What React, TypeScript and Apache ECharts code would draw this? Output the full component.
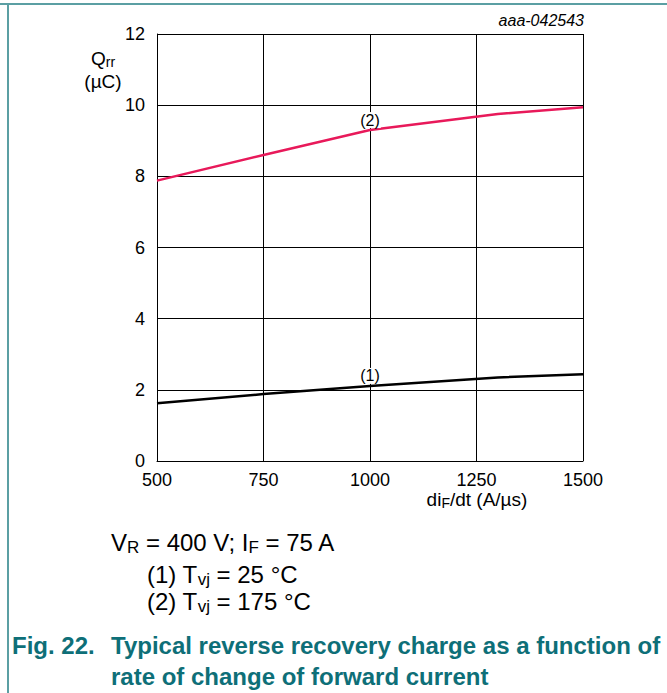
import React, { useEffect, useRef } from "react";
import * as echarts from "echarts";

const xTicks = [500, 750, 1000, 1250, 1500];
const dIdt = [500, 750, 1000, 1300, 1500];
const qrr25 = [1.62, 1.88, 2.11, 2.35, 2.44];
const qrr175 = [7.88, 8.6, 9.3, 9.75, 9.94];
const curveLabels = ["(1)", "(2)"];
const labelAt = 1000;

const FONT = "'Liberation Sans', Arial, sans-serif";
const TEAL = "#0e6f78";

function mkData(xs: number[], ys: number[]) {
  return xs.map((x, i) => [x, ys[i]]);
}

function mkLabel(label: string) {
  return {
    show: true,
    position: "top",
    distance: 2,
    formatter: (p: any) => (p.value[0] === labelAt ? label : ""),
    fontSize: 16,
    fontFamily: FONT,
    color: "#000",
    backgroundColor: "#fff",
    padding: [0, 1, 0, 1],
  };
}

export default function App() {
  const ref = useRef<HTMLDivElement>(null);
  useEffect(() => {
    const chart = echarts.init(ref.current!, null, { renderer: "svg" });
    const rich = {
      a: { fontSize: 24, fontFamily: FONT, color: "#000" },
      s: { fontSize: 17, fontFamily: FONT, color: "#000", padding: [11, 0, 0, 0] },
    };
    const richSm = {
      a: { fontSize: 19, fontFamily: FONT, color: "#000" },
      s: { fontSize: 14, fontFamily: FONT, color: "#000", padding: [8, 0, 0, 0] },
    };
    chart.setOption({
      animation: false,
      grid: { left: 157, top: 34, width: 426, height: 427, containLabel: false },
      xAxis: {
        type: "value",
        min: 500,
        max: 1500,
        interval: 250,
        axisLine: { show: true, lineStyle: { color: "#000", width: 1 } },
        axisTick: { show: false },
        splitLine: { show: true, lineStyle: { color: "#000", width: 1 } },
        axisLabel: {
          fontSize: 18,
          fontFamily: FONT,
          color: "#000",
          margin: 10,
          customValues: xTicks,
          formatter: (v: number) => String(v),
        },
      },
      yAxis: {
        type: "value",
        min: 0,
        max: 12,
        interval: 2,
        axisLine: { show: true, lineStyle: { color: "#000", width: 1 } },
        axisTick: { show: false },
        splitLine: { show: true, lineStyle: { color: "#000", width: 1 } },
        axisLabel: { fontSize: 18, fontFamily: FONT, color: "#000", margin: 12 },
      },
      series: [
        {
          type: "line",
          data: mkData(dIdt, qrr25),
          showSymbol: true,
          symbol: "circle",
          symbolSize: 0,
          label: mkLabel(curveLabels[0]),
          lineStyle: { color: "#000", width: 2.5 },
          itemStyle: { color: "#000" },
          z: 3,
        },
        {
          type: "line",
          data: mkData(dIdt, qrr175),
          showSymbol: true,
          symbol: "circle",
          symbolSize: 0,
          label: mkLabel(curveLabels[1]),
          lineStyle: { color: "#e8195a", width: 2.5 },
          itemStyle: { color: "#e8195a" },
          z: 3,
        },
      ],
      graphic: [
        { type: "line", shape: { x1: 0, y1: 4, x2: 667, y2: 4 }, style: { stroke: "#5b9fa3", lineWidth: 2 } },
        { type: "line", shape: { x1: 8, y1: 4, x2: 8, y2: 693 }, style: { stroke: "#5b9fa3", lineWidth: 2 } },
        {
          type: "text",
          x: 584,
          y: 20,
          style: { text: "aaa-042543", font: `italic 16px ${FONT}`, fill: "#000", textAlign: "right", textVerticalAlign: "middle" },
        },
        {
          type: "text",
          x: 103,
          y: 58,
          style: { text: "{a|Q}{s|rr}", rich: richSm, textAlign: "center", textVerticalAlign: "middle" },
        },
        {
          type: "text",
          x: 103,
          y: 81,
          style: { text: "(µC)", font: `19px ${FONT}`, fill: "#000", textAlign: "center", textVerticalAlign: "middle" },
        },
        {
          type: "text",
          x: 477,
          y: 499,
          style: { text: "{a|di}{s|F}{a|/dt (A/µs)}", rich: richSm, textAlign: "center", textVerticalAlign: "middle" },
        },
        {
          type: "text",
          x: 111,
          y: 542,
          style: { text: "{a|V}{s|R}{a| = 400 V; I}{s|F}{a| = 75 A}", rich, textAlign: "left", textVerticalAlign: "middle" },
        },
        {
          type: "text",
          x: 147,
          y: 574,
          style: { text: "{a|(1) T}{s|vj}{a| = 25 °C}", rich, textAlign: "left", textVerticalAlign: "middle" },
        },
        {
          type: "text",
          x: 147,
          y: 601,
          style: { text: "{a|(2) T}{s|vj}{a| = 175 °C}", rich, textAlign: "left", textVerticalAlign: "middle" },
        },
        {
          type: "text",
          x: 12,
          y: 645,
          style: { text: "Fig. 22.", font: `bold 24px ${FONT}`, fill: TEAL, textAlign: "left", textVerticalAlign: "middle" },
        },
        {
          type: "text",
          x: 111,
          y: 645,
          style: { text: "Typical reverse recovery charge as a function of", font: `bold 24px ${FONT}`, fill: TEAL, textAlign: "left", textVerticalAlign: "middle" },
        },
        {
          type: "text",
          x: 111,
          y: 676,
          style: { text: "rate of change of forward current", font: `bold 24px ${FONT}`, fill: TEAL, textAlign: "left", textVerticalAlign: "middle" },
        },
      ],
    });
    return () => chart.dispose();
  }, []);
  return (
    <div
      ref={ref}
      style={{ position: "absolute", left: 0, top: 0, width: 667, height: 693, background: "#fff" }}
    />
  );
}
